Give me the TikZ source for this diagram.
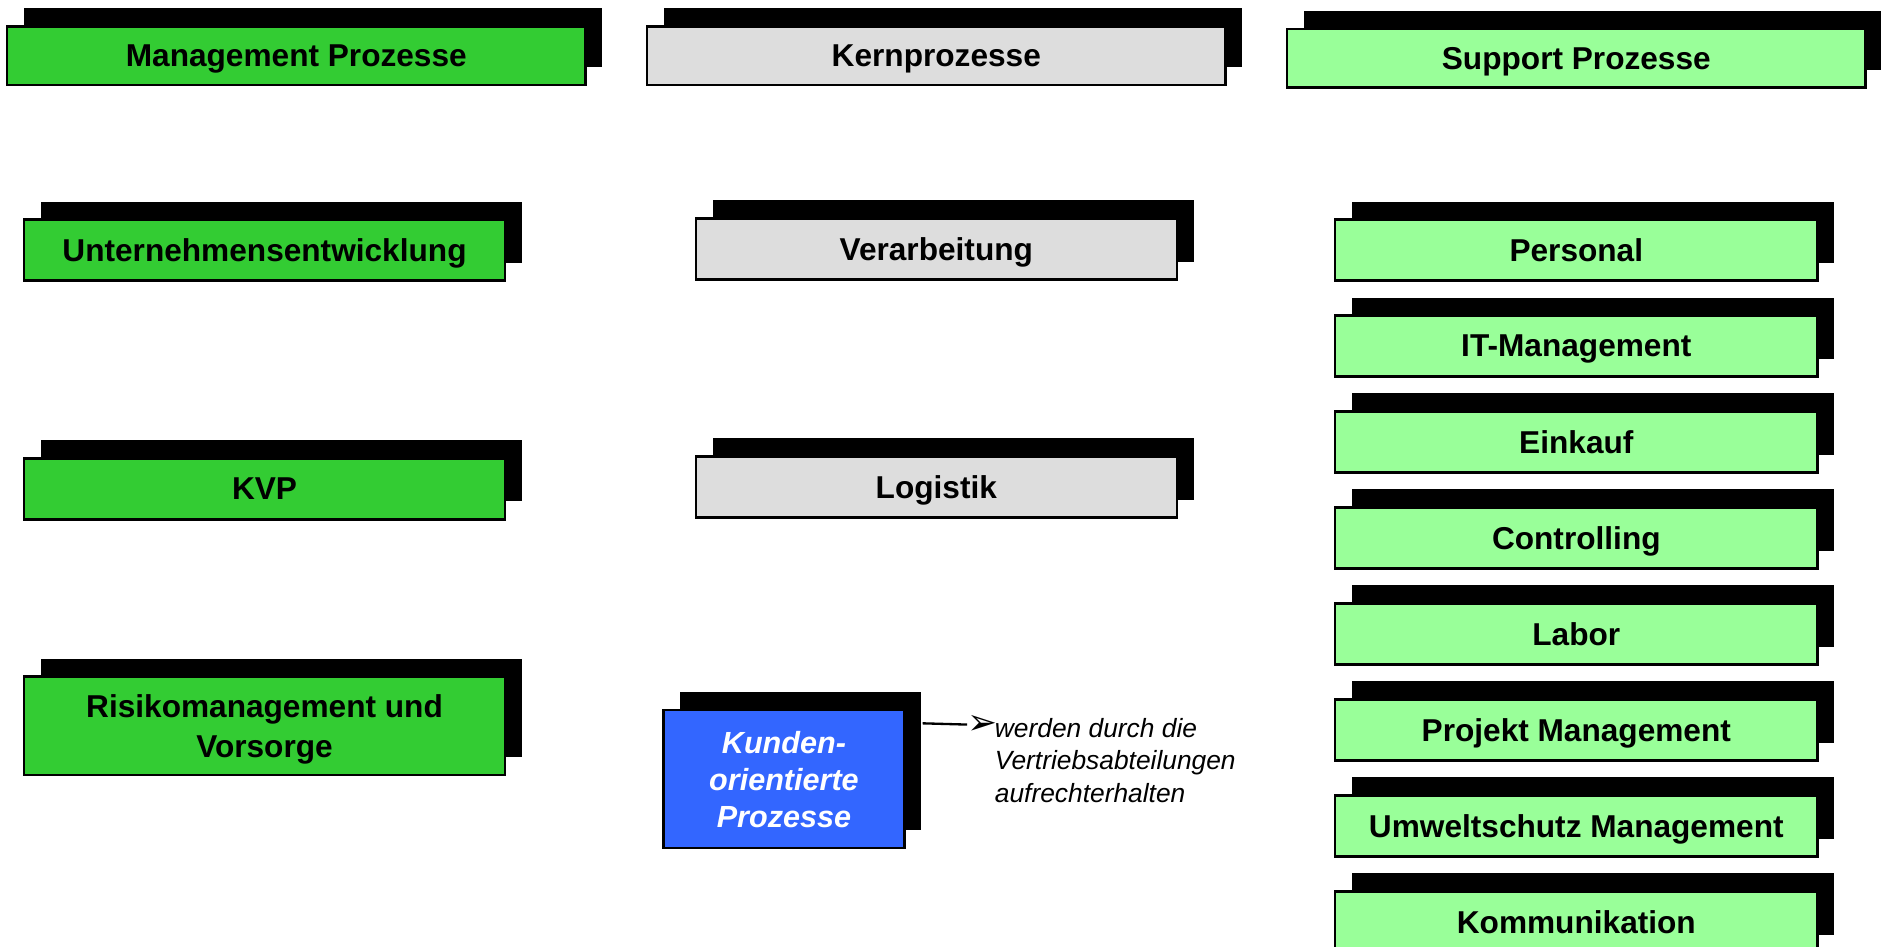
\documentclass[tikz,border=0pt]{standalone}
\usepackage{fontspec}
\setmainfont{Liberation Sans}
\newfontfamily\symfont{DejaVu Sans}
\usetikzlibrary{shadows}
\definecolor{mgmtgreen}{HTML}{33CC33}
\definecolor{kerngrey}{HTML}{DDDDDD}
\definecolor{suppgreen}{HTML}{99FF99}
\definecolor{kundenblue}{HTML}{3366FF}
\begin{document}
\begin{tikzpicture}[
        box/.style={draw=black, line width=1.2pt, inner sep=0pt, align=center, text depth=0pt,
            font=\fontsize{15}{19}\selectfont\bfseries,
            general shadow={shadow xshift=0.28cm, shadow yshift=0.3cm, fill=black}},
        head/.style={box, minimum width=9.64cm, minimum height=0.98cm},
        proc/.style={box, minimum width=8.02cm, minimum height=1.02cm}
    ]
    \useasboundingbox (0, 0) rectangle (31.36, -15.78);

    % Spaltenkoepfe
    \node[head, fill=mgmtgreen] (mgmt) at (4.94, -0.93) {Management Prozesse};
    \node[head, fill=kerngrey] (kern) at (15.61, -0.93) {Kernprozesse};
    \node[head, fill=suppgreen] (supp) at (26.28, -0.97) {Support Prozesse};

    % Management Prozesse
    \node[proc, fill=mgmtgreen] (ue) at (4.41, -4.17) {Unternehmensentwicklung};
    \node[proc, fill=mgmtgreen] (kvp) at (4.41, -8.15) {KVP};
    \node[proc, fill=mgmtgreen, minimum height=1.64cm] (risiko) at (4.41, -12.10)
        {Risikomanagement und\\Vorsorge};

    % Kernprozesse
    \node[proc, fill=kerngrey] (verarb) at (15.61, -4.15) {Verarbeitung};
    \node[proc, fill=kerngrey] (logistik) at (15.61, -8.12) {Logistik};
    \node[box, fill=kundenblue, text=white, minimum width=4.02cm, minimum height=2.3cm,
        font=\fontsize{14.5}{17.6}\selectfont\bfseries\itshape] (kunden) at (13.07, -12.99)
        {Kunden-\\orientierte\\Prozesse};

    % Support Prozesse
    \foreach \name [count=\i from 0] in {Personal, IT-Management, Einkauf, Controlling,
            Labor, Projekt Management, Umweltschutz Management, Kommunikation}
        \node[proc, fill=suppgreen, minimum width=8.04cm] (s\i) at (26.28, -4.17-1.6*\i) {\name};

    % Hinweis
    \node[inner sep=0pt, font=\symfont\fontsize{17}{19}\selectfont] (pfeil) at (16.38, -12.08) {➢};
    \node[anchor=west, align=left, inner sep=0pt, font=\fontsize{12.5}{15.4}\selectfont\itshape]
        (hinweis) at (16.58, -12.68) {werden durch die\\Vertriebsabteilungen\\aufrechterhalten};
    \draw[line width=1.1pt] ([shift={(0.28,-0.24)}]kunden.north east) -- (pfeil.west);
\end{tikzpicture}
\end{document}
